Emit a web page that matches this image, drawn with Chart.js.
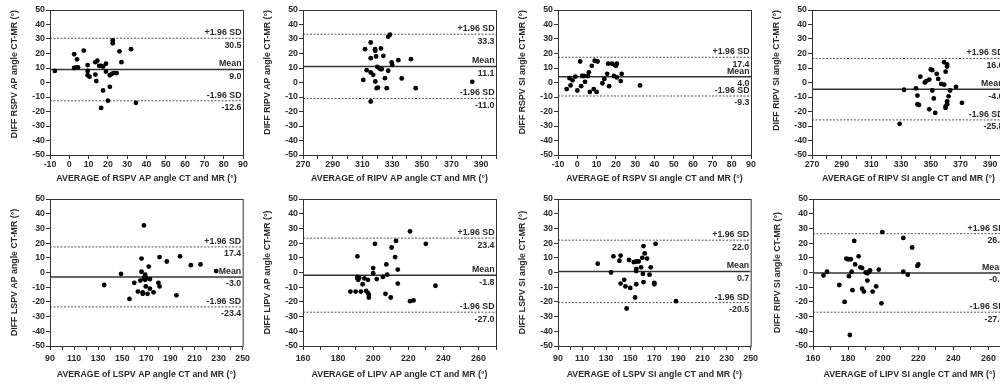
<!DOCTYPE html>
<html><head><meta charset="utf-8">
<script src="https://cdn.jsdelivr.net/npm/chart.js@4/dist/chart.umd.min.js"></script>
<style>
html,body{margin:0;padding:0;background:#fff;overflow:hidden;width:1000px;height:384px;position:relative}
canvas.pane{position:absolute}
</style></head><body>
<script>
// ── DATA ─────────────────────────────────────────────────────────
const yTicks = [-50, 50, 10];               // min, max, step of every DIFF axis
const limitNames = ['+1.96 SD', 'Mean', '-1.96 SD'];

// RSPV AP
const rspvApAvg  = [-7.5,2.5,2.5,3.5,4,4.5,7.5,9.5,9.5,9.5,10.5,13.5,14.5,13.5,14,15.5,16.5,17.5,19,19,17.5,16.5,20,21,21,22,23,24.5,22.5,22.5,26,27,32,34.5];
const rspvApDiff = [8,19.5,10,10.5,16,10.5,22,12,8,5,4,14,15,5.5,1,11.5,11.5,11,13,7.5,-5.5,-17.5,-12.5,-3,5,6,6.5,6.5,27,29,21.5,14,23,-14];
const rspvApLim  = [30.5, 9.0, -12.6];
const rspvApRange = [-10, 90];

// RIPV AP
const ripvApAvg  = [310.6,311.8,312.9,315.6,315.6,315.6,317.3,318.5,318.7,319.2,318.7,319.6,320.5,320,321.4,322.3,323,322.5,324.1,315.6,325.2,326.4,327.4,327.4,328.6,329.7,330.1,334.2,336.5,342.7,345.9,384];
const ripvApDiff = [1.8,23,8.5,16.8,27.6,6.9,5.3,23,21.9,18,0.7,-3.9,-3.5,10.8,9.9,9.2,9.2,23.5,18.4,-13.1,3,-3.9,8.1,31.6,33,13.8,12.2,15.4,2.8,16.1,-3.9,0.5];
const ripvApLim  = [33.3, 11.1, -11.0];
const ripvApRange = [270, 400];

// RSPV SI
const rspvSiAvg  = [-5.5,-4,-3.5,-2.5,-1,0,1.5,2,2.5,3.5,4,5.5,6,6.5,7.5,8.5,9,10,10.5,13,14,15.5,16,16.5,18,19,19.5,20,20.5,20.5,22.5,23,32.5];
const rspvSiDiff = [-4.5,3,-2,1.5,4,-5.5,14.5,-2.5,4.5,4.5,0.5,4.5,7,-6.5,11.5,-4.5,15,-6.5,14.5,-0.5,2.5,6,13,-2.5,13,4.5,12,11.5,13,3.5,1,6,-2];
const rspvSiLim  = [17.4, 4.0, -9.3];
const rspvSiRange = [-10, 90];

// RIPV SI
const ripvSiAvg  = [329,332,340,341,341,342,343,346,347,349,349,350,351,351,352,353,354,355,357,359,359,360,360,360,361,361,361,361,362,363,367,371];
const ripvSiDiff = [-28.5,-5,-4,-9,-15,-15.5,4,0,1,2,-18.5,9,8.5,-5.5,-11,-21,6,2.5,-1,-1.5,14,-16.5,-17.5,7.5,12.5,11,-15,-13,-9.5,-5.5,-3,-14];
const ripvSiLim  = [16.6, -4.6, -25.8];
const ripvSiRange = [270, 400];

// LSPV AP
const lspvApAvg  = [135,149,156,160,163,165,166,166,167,167,168,168,168.5,169,169,169,169.5,170,171,172,173,173,176,180,181,181,187,195,198,207,215,228];
const lspvApDiff = [-8.5,-1,-18,-7,-13,-5.5,0.5,9.5,-13.5,-14.5,32,-4,-3,-1.5,-2.5,-5,-9.5,-4,-14.5,4,-4.5,-11,-13.5,-7,10.5,-9.5,7.5,-15.5,11,5,5.5,1];
const lspvApLim  = [17.4, -3.0, -23.4];
const lspvApRange = [90, 250];

// LIPV AP
const lipvApAvg  = [187,190,191,191,191,191.5,192,193,194,195,196,197,197,197.5,197.5,200,200,201,202,205.5,207,207.5,208,210,210.5,212.5,213,214,214,221,221,223,230,235.5];
const lipvApDiff = [-13,-13,11,-3,-4,-5,-3.5,-13,-8,-4,-12.5,-5,-14,-15,-17,3,-0.5,19.5,-4.5,-3,-14.5,5.5,-1.5,-17,17,10.5,21.5,2,-7.5,28,-19.5,-19,19.5,-9];
const lipvApLim  = [23.4, -1.8, -27.0];
const lipvApRange = [160, 270];

// LSPV SI
const lspvSiAvg  = [123,134,136,141,142,142,145,146,147,149,150,153,154,155,155,155,155,157,159,160,160.5,161,161,162,164,166,167,170,170,171,188];
const lspvSiDiff = [6,0,11,8,11.5,-7.5,-5,-9.5,-24.5,8.5,-10.5,7,-17,7.5,1,2.5,-8,7.5,3.5,10,-1,18,-6.5,13,9.5,-1.5,3.5,-7,-8,19.5,-19.5];
const lspvSiLim  = [22.0, 0.7, -20.5];
const lspvSiRange = [90, 250];

// LIPV SI
const lipvSiAvg  = [166,168,175,178,179,180,180.5,181,181.5,182,182.5,183.5,184,186,187,188,188,189,190,191,191,192,192.5,194,196,197.5,199,199.5,211.5,211.5,214,216.5,219.5,220];
const lipvSiDiff = [-2,0.5,-8.5,-20,9.5,9,-2.5,-42.5,9,0.5,-12,21.5,5.5,11,3.5,3,-11,-13,0,-0.5,-5.5,0.5,1.5,-13,-9.5,2,-21,27.5,23.5,0.5,-1.5,17,4.5,5.5];
const lipvSiLim  = [26.4, -0.3, -27.0];
const lipvSiRange = [160, 270];

// ── LAYOUT ───────────────────────────────────────────────────────
const panels = [
  { avg:rspvApAvg, diff:rspvApDiff, lim:rspvApLim, range:rspvApRange, lblStep:10, name:'RSPV AP', yName:'RSPV AP', axisX:50,  row:0 },
  { avg:ripvApAvg, diff:ripvApDiff, lim:ripvApLim, range:ripvApRange, lblStep:20, name:'RIPV AP', yName:'RIPV AP', axisX:303, row:0 },
  { avg:rspvSiAvg, diff:rspvSiDiff, lim:rspvSiLim, range:rspvSiRange, lblStep:10, name:'RSPV SI', yName:'RSPV SI', axisX:558, row:0 },
  { avg:ripvSiAvg, diff:ripvSiDiff, lim:ripvSiLim, range:ripvSiRange, lblStep:20, name:'RIPV SI', yName:'RIPV SI', axisX:812, row:0 },
  { avg:lspvApAvg, diff:lspvApDiff, lim:lspvApLim, range:lspvApRange, lblStep:20, name:'LSPV AP', yName:'LSPV AP', axisX:50,  row:1 },
  { avg:lipvApAvg, diff:lipvApDiff, lim:lipvApLim, range:lipvApRange, lblStep:20, name:'LIPV AP', yName:'LIPV AP', axisX:303, row:1 },
  { avg:lspvSiAvg, diff:lspvSiDiff, lim:lspvSiLim, range:lspvSiRange, lblStep:20, name:'LSPV SI', yName:'LSPV SI', axisX:558, row:1 },
  { avg:lipvSiAvg, diff:lipvSiDiff, lim:lipvSiLim, range:lipvSiRange, lblStep:20, name:'LIPV SI', yName:'RIPV SI', axisX:813, row:1 }
];
const rowGeo = [
  { top:0,   padTop:10, xH:37, tickPad:0, titlePad:7.7, yAlign:'end' },
  { top:192, padTop:7,  xH:38, tickPad:3, titlePad:3.7, yAlign:'center' }
];

const FONT = '"Liberation Sans", Arial, sans-serif';
const INK = '#2a2a2a';
Chart.defaults.font.family = FONT;
Chart.defaults.font.size = 8.8;
Chart.defaults.font.weight = 'bold';
Chart.defaults.color = INK;

// box round the plot area
const frame = {
  id:'frame',
  afterDraw(chart) {
    const { ctx, chartArea:a } = chart;
    ctx.save(); ctx.strokeStyle = '#333'; ctx.lineWidth = 1;
    ctx.strokeRect(a.left + 0.5, a.top + 0.5, a.right - a.left, a.bottom - a.top);
    ctx.restore();
  }
};

// "+1.96 SD / 30.5" style labels above and below each limit line
const limitText = {
  id:'limitText',
  afterDatasetsDraw(chart, args, opts) {
    const { ctx, chartArea:a, scales:{ y } } = chart;
    ctx.save();
    ctx.font = 'bold 8.8px ' + FONT; ctx.fillStyle = INK; ctx.textAlign = 'right'; ctx.textBaseline = 'alphabetic';
    opts.lim.forEach((v, i) => {
      const py = y.getPixelForValue(v);
      ctx.fillText(limitNames[i], a.right - 1.5, py - 3);
      ctx.fillText(v.toFixed(1), a.right - 1.5, py + 9.5);
    });
    ctx.restore();
  }
};

panels.forEach(p => {
  const g = rowGeo[p.row];
  const cv = document.createElement('canvas');
  cv.className = 'pane';
  cv.width = 253; cv.height = 192;
  cv.style.left = (p.axisX - 50) + 'px';
  cv.style.top = g.top + 'px';
  document.body.appendChild(cv);

  const [xMin, xMax] = p.range;
  const limLine = (v, i) => ({
    type:'line', data:[{ x:xMin, y:v }, { x:xMax, y:v }],
    borderColor: i === 1 ? '#333' : '#555', borderWidth: i === 1 ? 1.5 : 1,
    borderDash: i === 1 ? [] : [2, 1.5], pointRadius:0, fill:false
  });

  new Chart(cv, {
    type:'scatter',
    data:{ datasets:[
      { data:p.avg.map((x, i) => ({ x, y:p.diff[i] })), backgroundColor:'#000', borderWidth:0, pointRadius:2.4 },
      ...p.lim.map(limLine)
    ]},
    options:{
      responsive:false, animation:false, devicePixelRatio:1,
      layout:{ padding:{ top:g.padTop, right:10, left:0, bottom:0 } },
      plugins:{ legend:{ display:false }, tooltip:{ enabled:false }, limitText:{ lim:p.lim } },
      scales:{
        x:{ type:'linear', min:xMin, max:xMax,
            ticks:{ stepSize:10, autoSkip:false, maxRotation:0, padding:g.tickPad, color:INK,
                    callback:v => ((v - xMin) % p.lblStep === 0 ? v : '') },
            grid:{ drawOnChartArea:false, tickLength:4, color:'#333' },
            border:{ color:'#333' },
            title:{ display:true, text:'AVERAGE of ' + p.name + ' angle CT and MR (°)', color:INK,
                    padding:{ top:0, bottom:g.titlePad } },
            afterFit:s => { s.height = g.xH; } },
        y:{ min:yTicks[0], max:yTicks[1],
            ticks:{ stepSize:yTicks[2], padding:1, color:INK },
            grid:{ drawOnChartArea:false, tickLength:4, color:'#333' },
            border:{ color:'#333' },
            title:{ display:true, align:g.yAlign, text:'DIFF ' + p.yName + ' angle CT-MR (°)', color:INK,
                    padding:{ top:9.7, bottom:0 } },
            afterFit:s => { s.width = 50; } }
      }
    },
    plugins:[frame, limitText]
  });
});
</script>
</body></html>
